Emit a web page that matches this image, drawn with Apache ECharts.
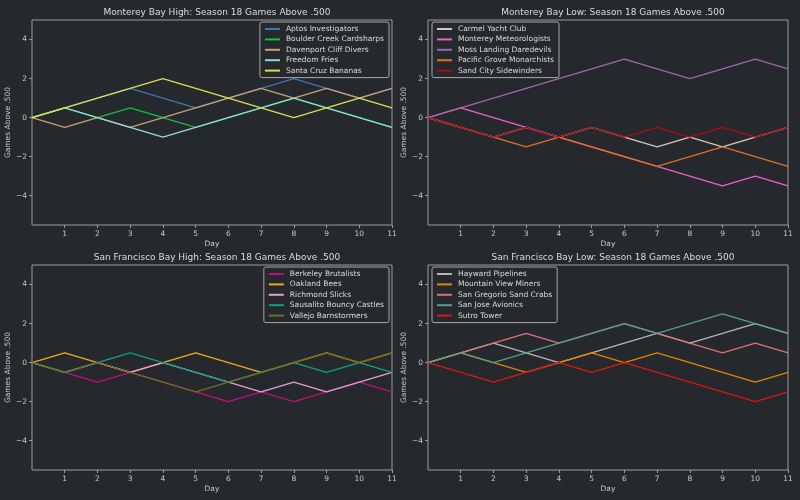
<!DOCTYPE html>
<html><head><meta charset="utf-8">
<script src="https://cdn.jsdelivr.net/npm/echarts@6/dist/echarts.min.js"></script>
<style>html,body{margin:0;padding:0;background:#25282d}#c{width:800px;height:500px}</style>
</head><body><div id="c"></div>
<script>
const days = [0,1,2,3,4,5,6,7,8,9,10,11];
const yTicks = [-4,-2,0,2,4];
const xTicks = [1,2,3,4,5,6,7,8,9,10,11];

const panelTitles = [
  'Monterey Bay High: Season 18 Games Above .500',
  'Monterey Bay Low: Season 18 Games Above .500',
  'San Francisco Bay High: Season 18 Games Above .500',
  'San Francisco Bay Low: Season 18 Games Above .500'
];

// Monterey Bay High
const mbhTeams = ['Aptos Investigators','Boulder Creek Cardsharps','Davenport Cliff Divers','Freedom Fries','Santa Cruz Bananas'];
const aptos     = [0,0.5,1,1.5,1,0.5,1,1.5,2,1.5,1,1.5];
const boulder   = [0,0.5,0,0.5,0,-0.5,0,0.5,1,0.5,0,-0.5];
const davenport = [0,-0.5,0,-0.5,0,0.5,1,1.5,1,1.5,1,1.5];
const freedom   = [0,0.5,0,-0.5,-1,-0.5,0,0.5,1,0.5,0,-0.5];
const santaCruz = [0,0.5,1,1.5,2,1.5,1,0.5,0,0.5,1,0.5];

// Monterey Bay Low
const mblTeams = ['Carmel Yacht Club','Monterey Meteorologists','Moss Landing Daredevils','Pacific Grove Monarchists','Sand City Sidewinders'];
const carmel    = [0,-0.5,-1,-0.5,-1,-0.5,-1,-1.5,-1,-1.5,-1,-0.5];
const monterey  = [0,0.5,0,-0.5,-1,-1.5,-2,-2.5,-3,-3.5,-3,-3.5];
const moss      = [0,0.5,1,1.5,2,2.5,3,2.5,2,2.5,3,2.5];
const pacific   = [0,-0.5,-1,-1.5,-1,-1.5,-2,-2.5,-2,-1.5,-2,-2.5];
const sandCity  = [0,-0.5,-1,-0.5,-1,-0.5,-1,-0.5,-1,-0.5,-1,-0.5];

// San Francisco Bay High
const sfhTeams = ['Berkeley Brutalists','Oakland Bees','Richmond Slicks','Sausalito Bouncy Castles','Vallejo Barnstormers'];
const berkeley  = [0,-0.5,-1,-0.5,-1,-1.5,-2,-1.5,-2,-1.5,-1,-1.5];
const oakland   = [0,0.5,0,-0.5,0,0.5,0,-0.5,0,0.5,0,0.5];
const richmond  = [0,-0.5,0,-0.5,0,-0.5,-1,-1.5,-1,-1.5,-1,-0.5];
const sausalito = [0,-0.5,0,0.5,0,-0.5,-1,-0.5,0,-0.5,0,-0.5];
const vallejo   = [0,-0.5,0,-0.5,-1,-1.5,-1,-0.5,0,0.5,0,0.5];

// San Francisco Bay Low
const sflTeams = ['Hayward Pipelines','Mountain View Miners','San Gregorio Sand Crabs','San Jose Avionics','Sutro Tower'];
const hayward   = [0,0.5,1,0.5,0,0.5,1,1.5,1,1.5,2,1.5];
const mtnView   = [0,0.5,0,-0.5,0,0.5,0,0.5,0,-0.5,-1,-0.5];
const sanGreg   = [0,0.5,1,1.5,1,1.5,2,1.5,1,0.5,1,0.5];
const sanJose   = [0,0.5,0,0.5,1,1.5,2,1.5,2,2.5,2,1.5];
const sutro     = [0,-0.5,-1,-0.5,0,-0.5,0,-0.5,-1,-1.5,-2,-1.5];

const panels = [
  {teams: mbhTeams, data: [aptos,boulder,davenport,freedom,santaCruz],
   colors: ['#3a78b0','#10c040','#c8a070','#90dcd4','#e0dc50'], legendRight: true},
  {teams: mblTeams, data: [carmel,monterey,moss,pacific,sandCity],
   colors: ['#d4c8b8','#f060c8','#9a6aaa','#e07020','#b00818'], legendRight: false},
  {teams: sfhTeams, data: [berkeley,oakland,richmond,sausalito,vallejo],
   colors: ['#c0107c','#f0a820','#e0a0d0','#10a080','#6e6e20'], legendRight: true},
  {teams: sflTeams, data: [hayward,mtnView,sanGreg,sanJose,sutro],
   colors: ['#b4b4b4','#e08400','#e07070','#50a088','#e01414'], legendRight: false}
];

const grids = [
  {left: 32, top: 20, width: 360, height: 205},
  {left: 428, top: 20, width: 360, height: 205},
  {left: 32, top: 265, width: 360, height: 205},
  {left: 428, top: 265, width: 360, height: 205}
];

const fg = '#c8c8c8';
const spine = '#9c9c9c';
const fmt = v => v < 0 ? '\u2212' + Math.abs(v) : String(v);

const option = {
  backgroundColor: '#25282d',
  animation: false,
  textStyle: {fontFamily: 'DejaVu Sans'},
  title: grids.map((g,i) => ({
    text: panelTitles[i], left: g.left + g.width/2, top: g.top - 17, textAlign: 'center',
    textStyle: {color: '#dcdcdc', fontSize: 9, fontWeight: 'normal', fontFamily: 'DejaVu Sans'}
  })),
  grid: grids.map(g => Object.assign({show: true, borderColor: spine, borderWidth: 1, backgroundColor: 'transparent'}, g)),
  xAxis: grids.map((g,i) => ({
    type: 'value', gridIndex: i, min: 0, max: 11, interval: 1,
    name: 'Day', nameLocation: 'middle', nameGap: 15,
    nameTextStyle: {color: fg, fontSize: 7.5, fontFamily: 'DejaVu Sans'},
    axisLine: {show: false, onZero: false},
    axisTick: {show: true, length: 3, lineStyle: {color: spine}, customValues: xTicks},
    axisLabel: {color: fg, fontSize: 7.5, margin: 5, customValues: xTicks, fontFamily: 'DejaVu Sans'},
    splitLine: {show: false}
  })),
  yAxis: grids.map((g,i) => ({
    type: 'value', gridIndex: i, min: -5.5, max: 5,
    name: 'Games Above .500', nameLocation: 'middle', nameGap: 18, nameRotate: 90,
    nameTextStyle: {color: fg, fontSize: 7.5, fontFamily: 'DejaVu Sans'},
    axisLine: {show: false, onZero: false},
    axisTick: {show: true, length: 3, lineStyle: {color: spine}, customValues: yTicks},
    axisLabel: {color: fg, fontSize: 7.5, margin: 5, customValues: yTicks, formatter: fmt, fontFamily: 'DejaVu Sans'},
    splitLine: {show: false}
  })),
  legend: panels.map((p,i) => {
    const g = grids[i];
    const l = {
      orient: 'vertical', top: g.top + 2,
      data: p.teams.map(t => ({name: t, icon: 'rect'})),
      itemWidth: 15, itemHeight: 2, itemGap: 2.4,
      padding: [3, 5, 3, 5],
      borderColor: '#a8a8a8', borderWidth: 1, borderRadius: 2,
      backgroundColor: 'rgba(37,40,45,0.8)',
      textStyle: {color: '#dcdcdc', fontSize: 7.5, fontFamily: 'DejaVu Sans', padding: [0,0,0,1]}
    };
    if (p.legendRight) l.right = 800 - (g.left + g.width) + 3; else l.left = g.left + 4;
    return l;
  }),
  series: []
};

panels.forEach((p,i) => {
  p.teams.forEach((t,k) => {
    option.series.push({
      type: 'line', name: t, xAxisIndex: i, yAxisIndex: i,
      data: days.map((d,j) => [d, p.data[k][j]]),
      showSymbol: false, symbol: 'none',
      lineStyle: {width: 1.4, color: p.colors[k]},
      itemStyle: {color: p.colors[k]},
      emphasis: {disabled: true}
    });
  });
});

const chart = echarts.init(document.getElementById('c'));
chart.setOption(option);
</script></body></html>
